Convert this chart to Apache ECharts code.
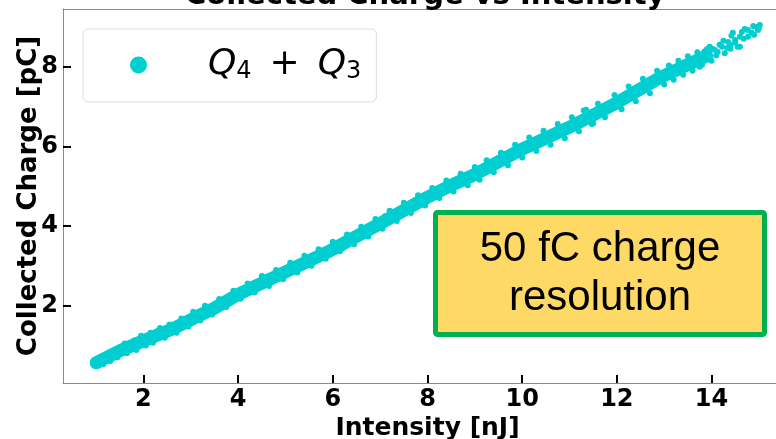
<!DOCTYPE html>
<html>
<head>
<meta charset="utf-8">
<script src="https://cdn.jsdelivr.net/npm/echarts@6/dist/echarts.min.js"></script>
<style>
html,body{margin:0;padding:0;background:#fff;}
#chart{width:776px;height:439px;}
</style>
</head>
<body>
<div id="chart"></div>
<script>
// ---- data ----
const chartTitle = 'Collected Charge vs Intensity';
const xName = 'Intensity [nJ]';
const yName = 'Collected Charge [pC]';
const seriesName = 'Q4 + Q3';
const xTicks = [2, 4, 6, 8, 10, 12, 14];
const yTicks = [2, 4, 6, 8];
const annotationLines = ['50 fC charge', 'resolution'];

// dense core of the point cloud (centre of the band)
const coreX = [1.0, 1.5, 2.0, 2.6, 3.2, 3.5, 4.0, 5.1, 5.95, 7.0, 8.0, 8.45, 9.0, 9.95, 11.0, 11.95, 12.9, 13.55, 13.9];
const coreY = [0.56, 0.86, 1.11, 1.40, 1.76, 1.93, 2.28, 2.90, 3.38, 4.06, 4.72, 4.99, 5.29, 5.90, 6.48, 7.06, 7.72, 8.08, 8.27];

// individual measurements visible at the band edges
const ptsX = [1.0, 1.02, 1.05, 1.1, 1.15, 1.25, 1.3, 1.4, 1.45, 1.6, 1.65, 1.8, 1.85, 1.95, 2.05, 2.15, 2.2, 2.35, 2.45, 2.55,
  2.7, 2.8, 2.95, 3.05, 3.2, 3.3, 3.45, 3.6, 3.75, 3.9, 4.05, 4.2, 4.35, 4.5, 4.65, 4.8, 4.95, 5.1, 5.25, 5.4,
  5.55, 5.7, 5.85, 6.0, 6.15, 6.3, 6.45, 6.6, 6.75, 6.9, 7.05, 7.2, 7.35, 7.5, 7.65, 7.8, 7.95, 8.1, 8.25, 8.4,
  8.55, 8.7, 8.85, 9.0, 9.1, 9.25, 9.4, 9.55, 9.7, 9.85, 10.0, 10.15, 10.3, 10.45, 10.6, 10.75, 10.9, 11.05, 11.2, 11.35,
  11.47, 11.5, 11.6, 11.75, 11.95, 12.1, 12.25, 12.4, 12.55, 12.7, 12.85, 13.0, 13.1, 13.2, 13.3, 13.4, 13.5, 13.6, 13.7, 13.8,
  13.9, 13.75, 13.85, 13.96, 14.0, 14.02, 14.07, 14.1, 14.13, 14.17, 14.22, 14.25, 14.28, 14.33, 14.35, 14.4, 14.4, 14.42, 14.45, 14.5,
  14.5, 14.55, 14.6, 14.6, 14.64, 14.68, 14.7, 14.77, 14.77, 14.85, 14.88, 14.9, 14.96, 14.98, 15.0, 15.02,
  1.7, 2.3, 3.0, 3.8, 4.6, 5.3, 6.2, 7.1, 7.9, 8.8, 9.6, 10.4, 11.3, 12.2, 12.9];
const ptsY = [0.50, 0.64, 0.49, 0.70, 0.52, 0.77, 0.60, 0.88, 0.70, 1.04, 0.80, 1.12, 0.88, 1.24, 0.99, 1.31, 1.06, 1.43, 1.19, 1.52,
  1.31, 1.67, 1.47, 1.84, 1.62, 1.99, 1.77, 2.16, 1.96, 2.37, 2.17, 2.55, 2.33, 2.74, 2.49, 2.89, 2.66, 3.07, 2.83, 3.25,
  3.00, 3.41, 3.17, 3.60, 3.36, 3.78, 3.54, 3.98, 3.73, 4.17, 3.93, 4.38, 4.12, 4.58, 4.32, 4.77, 4.51, 4.95, 4.70, 5.14,
  4.86, 5.31, 5.02, 5.48, 5.16, 5.65, 5.35, 5.84, 5.52, 6.04, 5.72, 6.22, 5.88, 6.39, 6.04, 6.56, 6.20, 6.73, 6.38, 6.92,
  6.56, 6.58, 7.07, 6.73, 7.29, 6.93, 7.50, 7.13, 7.70, 7.33, 7.90, 7.55, 8.03, 7.67, 8.15, 7.80, 8.26, 7.90, 8.36, 8.05,
  8.44, 8.00, 8.38, 8.50, 8.15, 8.45, 8.42, 8.28, 8.37, 8.55, 8.50, 8.65, 8.34, 8.47, 8.62, 8.55, 8.45, 8.78, 8.85, 8.67,
  8.60, 8.50, 8.75, 8.50, 8.87, 8.70, 8.95, 8.92, 8.75, 8.85, 9.02, 8.80, 9.00, 8.92, 8.97, 9.05,
  0.89, 1.36, 1.70, 2.09, 2.72, 3.03, 3.43, 4.24, 4.58, 5.21, 5.80, 6.13, 6.90, 7.29, 7.68];

const corePairs = coreX.map((x, i) => [x, coreY[i]]);
const ptPairs = ptsX.map((x, i) => [x, ptsY[i]]);

const teal = '#00CED1';
const spine = '#8a8a8a';
const font = 'DejaVu Sans';

const chart = echarts.init(document.getElementById('chart'), null, {renderer: 'canvas'});
chart.setOption({
  animation: false,
  backgroundColor: '#ffffff',
  title: {
    text: chartTitle,
    left: 185,
    top: -18,
    padding: 0,
    textStyle: {fontFamily: font, fontWeight: 'bold', fontSize: 29, color: '#000'}
  },
  grid: {left: 63, right: -16, top: 9, bottom: 56, outerBoundsMode: 'none', containLabel: false},
  legend: {
    left: 83, top: 29,
    orient: 'horizontal',
    padding: [18, 15, 18, 47],
    backgroundColor: 'rgba(255,255,255,0.8)',
    borderColor: '#dcdcdc', borderWidth: 1, borderRadius: 5,
    icon: 'circle', itemWidth: 17, itemHeight: 17,
    data: [seriesName],
    formatter: function () {
      return '{q|Q}{s|4}{p|+}{q|Q}{s|3}';
    },
    textStyle: {
      color: '#000',
      padding: [0, 0, 0, 56],
      rich: {
        q: {fontFamily: font, fontStyle: 'italic', fontSize: 36, lineHeight: 38, color: '#000'},
        s: {fontFamily: font, fontSize: 24, lineHeight: 10, verticalAlign: 'bottom', color: '#000'},
        p: {fontFamily: font, fontSize: 36, lineHeight: 38, color: '#000', padding: [0, 18, 0, 18]}
      }
    }
  },
  xAxis: [{
    type: 'value', min: 0.3, max: 15.7,
    name: xName, nameLocation: 'middle', nameGap: 33, nameMoveOverlap: false,
    nameTextStyle: {fontFamily: font, fontWeight: 'bold', fontSize: 25, color: '#000', verticalAlign: 'top'},
    axisLine: {show: true, lineStyle: {color: spine, width: 1}},
    axisTick: {show: true, inside: true, length: 8, lineStyle: {color: '#000', width: 2}, customValues: xTicks},
    axisLabel: {show: true, customValues: xTicks, margin: 5, fontFamily: font, fontWeight: 'bold', fontSize: 24, color: '#000'},
    splitLine: {show: false}
  }, {
    type: 'value', min: 0.3, max: 15.7, position: 'top',
    axisLine: {show: true, onZero: false, lineStyle: {color: spine, width: 1}},
    axisTick: {show: false}, axisLabel: {show: false}, splitLine: {show: false}
  }],
  yAxis: [{
    type: 'value', min: 0.05, max: 9.45,
    name: yName, nameLocation: 'middle', nameGap: 21, nameMoveOverlap: false,
    nameTextStyle: {fontFamily: font, fontWeight: 'bold', fontSize: 26, color: '#000'},
    axisLine: {show: true, lineStyle: {color: spine, width: 1}},
    axisTick: {show: true, inside: true, length: 8, lineStyle: {color: '#000', width: 2}, customValues: yTicks},
    axisLabel: {show: true, customValues: yTicks, margin: 5, fontFamily: font, fontWeight: 'bold', fontSize: 24, color: '#000'},
    splitLine: {show: false}
  }],
  series: [{
    name: 'core', type: 'line', data: corePairs, silent: true,
    showSymbol: false, symbol: 'none', smooth: false,
    lineStyle: {color: teal, width: 13, cap: 'round', join: 'round'},
    z: 2
  }, {
    name: seriesName, type: 'scatter', data: ptPairs,
    symbol: 'circle', symbolSize: 6,
    itemStyle: {color: teal, opacity: 1},
    z: 3
  }],
  graphic: [{
    type: 'group',
    children: [{
      type: 'rect',
      shape: {x: 435.5, y: 212.5, width: 329, height: 122, r: 2},
      style: {fill: '#FFD966', stroke: '#00B050', lineWidth: 5}
    }, {
      type: 'text',
      x: 600, y: 273.5,
      style: {
        text: annotationLines.join('\n'),
        font: '42px "Liberation Sans", Arial, sans-serif',
        fill: '#000', align: 'center', verticalAlign: 'middle', lineHeight: 49
      }
    }]
  }]
});
</script>
</body>
</html>
